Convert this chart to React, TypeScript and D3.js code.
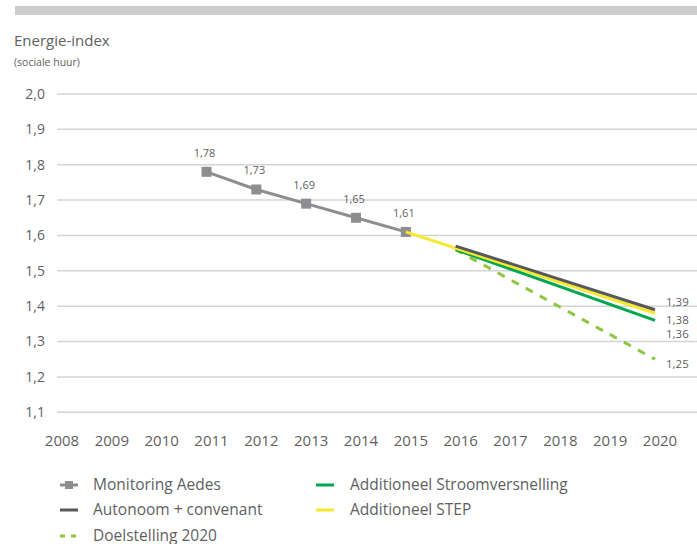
import React from "react";
import * as d3 from "d3";

const years = [2008, 2009, 2010, 2011, 2012, 2013, 2014, 2015, 2016, 2017, 2018, 2019, 2020];
const yTicks = [1.1, 1.2, 1.3, 1.4, 1.5, 1.6, 1.7, 1.8, 1.9, 2.0];

const monitoringYears = [2011, 2012, 2013, 2014, 2015];
const monitoringValues = [1.78, 1.73, 1.69, 1.65, 1.61];

const autonoomYears = [2016, 2020];
const autonoomValues = [1.57, 1.39];

const stroomYears = [2016, 2020];
const stroomValues = [1.56, 1.36];

const stepYears = [2015, 2020];
const stepValues = [1.61, 1.38];

const doelYears = [2016, 2020];
const doelValues = [1.56, 1.25];

const endLabels = ["1,39", "1,38", "1,36", "1,25"];
const endValues = [1.39, 1.38, 1.36, 1.25];
const endLabelDy = [-8, 7, 14, 5];

const W = 697;
const H = 544;
const FONT = "'Open Sans', 'Noto Sans', sans-serif";

const C_MON = "#8e8e90";
const C_AUT = "#58585a";
const C_GREEN = "#00a651";
const C_YELLOW = "#f4e92c";
const C_DASH = "#8cc63f";
const C_GRID = "#d4d4d4";
const C_TEXT = "#5f5f5f";

const fmt = (v: number) => v.toFixed(2).replace(".", ",");
const fmt1 = (v: number) => v.toFixed(1).replace(".", ",");

export default function App() {
  const x = d3.scaleLinear().domain([2008, 2020]).range([57, 655]);
  const y = d3.scaleLinear().domain([1.1, 2.0]).range([412.3, 94]);

  const line = d3
    .line<[number, number]>()
    .x((d) => x(d[0]))
    .y((d) => y(d[1]));

  const zip = (a: number[], b: number[]) => a.map((v, i) => [v, b[i]] as [number, number]);

  const legendRows = [485, 510, 536];

  return (
    <svg
      width={W}
      height={H}
      style={{ position: "absolute", left: 0, top: 0, background: "#fff", fontFamily: FONT }}
    >
      <rect x={15} y={6} width={W - 15} height={9} fill="#cccccc" />
      <text x={14} y={46} fontSize={15} fill={C_TEXT}>
        Energie-index
      </text>
      <text x={14} y={66} fontSize={10.5} fill={C_TEXT}>
        (sociale huur)
      </text>

      {yTicks.map((t) => (
        <g key={t}>
          <line x1={57} x2={W} y1={y(t)} y2={y(t)} stroke={C_GRID} strokeWidth={1.5} />
          <text x={45} y={y(t)} dy="0.35em" textAnchor="end" fontSize={14} fill={C_TEXT}>
            {fmt1(t)}
          </text>
        </g>
      ))}

      {years.map((yr) => (
        <text key={yr} x={x(yr) + 5} y={446} textAnchor="middle" fontSize={15} fill={C_TEXT}>
          {yr}
        </text>
      ))}

      <path d={line(zip(monitoringYears, monitoringValues)) || ""} fill="none" stroke={C_MON} strokeWidth={3} />
      {monitoringYears.map((yr, i) => (
        <g key={yr}>
          <rect x={x(yr) - 5} y={y(monitoringValues[i]) - 5} width={10} height={10} fill={C_MON} />
          <text x={x(yr) - 2} y={y(monitoringValues[i]) - 15} textAnchor="middle" fontSize={11} fill={C_TEXT}>
            {fmt(monitoringValues[i])}
          </text>
        </g>
      ))}

      <path
        d={line(zip(doelYears, doelValues)) || ""}
        fill="none"
        stroke={C_DASH}
        strokeWidth={3}
        strokeDasharray="8 8"
      />
      <path d={line(zip(stroomYears, stroomValues)) || ""} fill="none" stroke={C_GREEN} strokeWidth={3} />
      <path d={line(zip(stepYears, stepValues)) || ""} fill="none" stroke={C_YELLOW} strokeWidth={3} />
      <path d={line(zip(autonoomYears, autonoomValues)) || ""} fill="none" stroke={C_AUT} strokeWidth={3} />

      {endLabels.map((l, i) => (
        <text key={l} x={666} y={y(endValues[i]) + endLabelDy[i]} dy="0.35em" fontSize={11.5} fill={C_TEXT}>
          {l}
        </text>
      ))}

      {/* legend */}
      <g fontSize={15.5} fill={C_TEXT}>
        <line x1={60} x2={78} y1={legendRows[0]} y2={legendRows[0]} stroke={C_MON} strokeWidth={3} />
        <rect x={65} y={legendRows[0] - 4} width={8} height={8} fill={C_MON} />
        <text x={93} y={legendRows[0]} dy="0.35em">Monitoring Aedes</text>

        <line x1={60} x2={78} y1={legendRows[1]} y2={legendRows[1]} stroke={C_AUT} strokeWidth={3} />
        <text x={93} y={legendRows[1]} dy="0.35em">Autonoom + convenant</text>

        <line x1={60} x2={78} y1={legendRows[2]} y2={legendRows[2]} stroke={C_DASH} strokeWidth={3} strokeDasharray="5 6" />
        <text x={93} y={legendRows[2]} dy="0.35em">Doelstelling 2020</text>

        <line x1={316} x2={334} y1={legendRows[0]} y2={legendRows[0]} stroke={C_GREEN} strokeWidth={3} />
        <text x={350} y={legendRows[0]} dy="0.35em">Additioneel Stroomversnelling</text>

        <line x1={316} x2={334} y1={legendRows[1]} y2={legendRows[1]} stroke={C_YELLOW} strokeWidth={3} />
        <text x={350} y={legendRows[1]} dy="0.35em">Additioneel STEP</text>
      </g>
    </svg>
  );
}
